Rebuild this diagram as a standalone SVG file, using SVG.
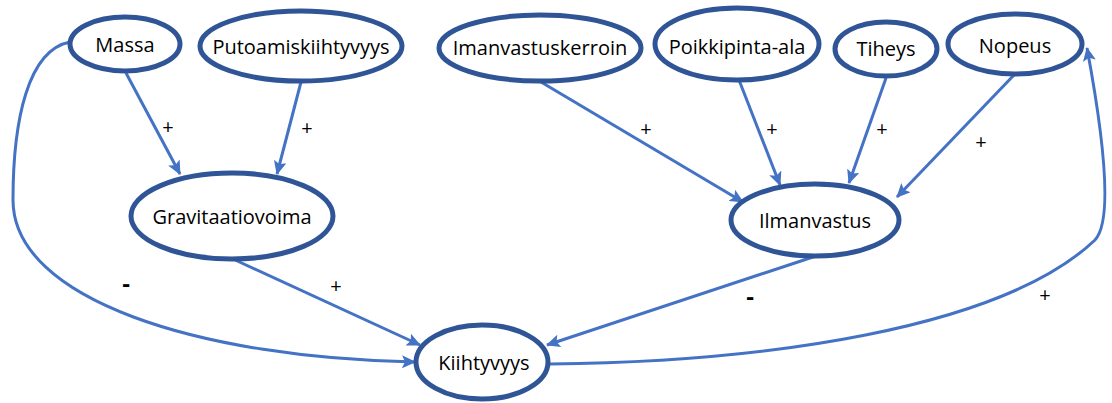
<svg xmlns="http://www.w3.org/2000/svg" width="1112" height="403" viewBox="0 0 1112 403">
<style>
.node ellipse{fill:#fff;stroke:#2F5597;stroke-width:5}
.node text{font-family:"Open Sans","Liberation Sans",sans-serif;font-size:20px;fill:#000;text-anchor:middle;dominant-baseline:central}
.conn path{fill:none;stroke:#4472C4;stroke-width:3;marker-end:url(#ah)}
.lbl{font-family:"Open Sans","Liberation Sans",sans-serif;font-size:20px;fill:#000;text-anchor:middle}
.neg{font-size:24px;font-weight:bold}
</style>
<defs>
<marker id="ah" markerUnits="userSpaceOnUse" markerWidth="15" markerHeight="13" refX="13" refY="6.5" orient="auto">
<path d="M0,0 L14,6.5 L0,13 L3,6.5 Z" fill="#4472C4"/>
</marker>
</defs>
<g id="connectors" class="conn">
<path d="M126,73 L180,174"/>
<path d="M301,82 L277,174"/>
<path d="M70,42 C28,50 13,120 13,200 C13,300 200,358 415,362"/>
<path d="M233,259 L420,345"/>
<path d="M541,82 L743,202"/>
<path d="M739,80 L780,185"/>
<path d="M886,78 L849,183"/>
<path d="M1014,75 L897,197"/>
<path d="M816,256 L547,345"/>
<path d="M550,364 C760,362 1000,330 1095,240 C1112,222 1106,150 1087,48"/>
</g>
<g id="labels">
<text class="lbl" x="168" y="134">+</text>
<text class="lbl" x="307" y="135">+</text>
<text class="lbl neg" x="126" y="292">-</text>
<text class="lbl" x="336" y="293">+</text>
<text class="lbl" x="646" y="136">+</text>
<text class="lbl" x="772" y="136">+</text>
<text class="lbl" x="882" y="136">+</text>
<text class="lbl" x="981" y="149">+</text>
<text class="lbl neg" x="750" y="305">-</text>
<text class="lbl" x="1045" y="302">+</text>
</g>
<g id="massa" class="node"><ellipse cx="125" cy="44" rx="55" ry="27"/><text x="125" y="44">Massa</text></g>
<g id="putoamiskiihtyvyys" class="node"><ellipse cx="301" cy="46" rx="101" ry="35"/><text x="301" y="46">Putoamiskiihtyvyys</text></g>
<g id="imanvastuskerroin" class="node"><ellipse cx="540" cy="48" rx="101" ry="33"/><text x="540" y="47">Imanvastuskerroin</text></g>
<g id="poikkipinta-ala" class="node"><ellipse cx="737" cy="44" rx="82" ry="36"/><text x="737" y="46">Poikkipinta-ala</text></g>
<g id="tiheys" class="node"><ellipse cx="886" cy="49" rx="51" ry="27"/><text x="886" y="48">Tiheys</text></g>
<g id="nopeus" class="node"><ellipse cx="1015" cy="44" rx="67" ry="30"/><text x="1015" y="45">Nopeus</text></g>
<g id="gravitaatiovoima" class="node"><ellipse cx="232" cy="216" rx="101" ry="43"/><text x="232" y="216">Gravitaatiovoima</text></g>
<g id="ilmanvastus" class="node"><ellipse cx="815" cy="220" rx="84" ry="36"/><text x="815" y="220">Ilmanvastus</text></g>
<g id="kiihtyvyys" class="node"><ellipse cx="482" cy="362" rx="66" ry="37"/><text x="484" y="362">Kiihtyvyys</text></g>
</svg>
